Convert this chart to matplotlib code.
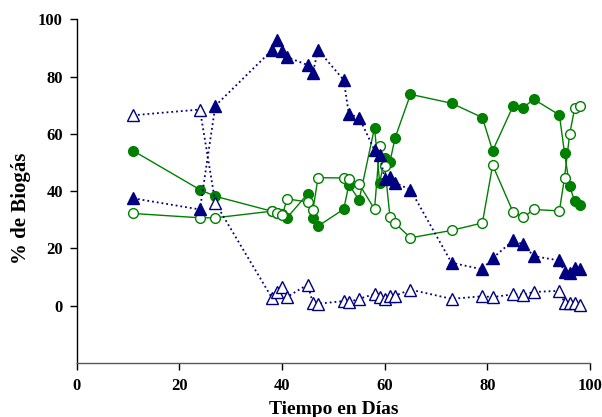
import matplotlib
matplotlib.use("Agg")
import matplotlib.pyplot as plt


# data collect
dias = [11, 24, 27, 38, 39, 40, 41, 45, 46, 47, 52, 53, 55, 58, 59,
        60, 61, 62, 65, 73, 79, 81, 85, 87, 89, 94, 95, 96, 97, 98]

tri_llenos = [37.5, 33.6, 69.8, 89.2, 92.8, 88.9, 86.8, 84.0, 81.4, 89.3,
              78.8, 66.9, 65.7, 54.3, 52.5, 44.3, 44.9, 42.9, 40.5, 15.0,
              12.7, 16.6, 22.8, 21.4, 17.3, 15.8, 11.7, 11.4, 13.2, 12.7]

tri_vacios = [66.5, 68.5, 35.9, 2.8, 4.8, 6.7, 3.1, 7.4, 0.9, 0.7,
              1.6, 1.3, 2.4, 4.1, 3.0, 2.4, 3.3, 3.5, 5.6, 2.4,
              3.3, 3.0, 4.0, 3.9, 4.8, 5.2, 1.0, 1.0, 1.0, 0.3]

circ_llenos = [54.1, 40.5, 38.2, 33.0, 32.5, 32.0, 30.8, 39.1, 30.5, 27.8,
               33.7, 42.3, 36.9, 62.2, 43.0, 51.5, 50.2, 58.6, 73.8, 70.7,
               65.7, 54.1, 69.8, 69.2, 72.1, 66.6, 53.3, 41.7, 36.4, 35.2]

circ_vacios = [32.2, 30.7, 30.7, 33.0, 32.3, 31.5, 37.3, 36.2, 33.4, 44.7,
               44.6, 44.3, 42.5, 33.7, 55.8, 48.7, 31.1, 28.8, 23.7, 26.3,
               28.9, 49.1, 32.6, 30.9, 33.6, 33.1, 44.7, 59.9, 69.2, 69.8]


# plot figure
navy = "#000080"
green = "#008000"
serif = "Liberation Serif"

fig = plt.figure(figsize=(6.02, 4.17), dpi=100)
ax = fig.add_axes([0.1274, 0.1295, 0.853, 0.8242])

ax.plot(dias, circ_llenos, "-o", color=green, lw=1, ms=7,
        mfc=green, mec=green)
ax.plot(dias, circ_vacios, "-o", color=green, lw=1, ms=7,
        mfc="white", mec=green, mew=1)
ax.plot(dias, tri_llenos, ":^", color=navy, lw=1.3, ms=8.5,
        mfc=navy, mec=navy)
ax.plot(dias, tri_vacios, ":^", color=navy, lw=1.3, ms=8.5,
        mfc="white", mec=navy, mew=1)

ax.set_xlim(0, 100)
ax.set_ylim(-20, 100)
ax.set_xticks(range(0, 101, 20))
ax.set_yticks(range(0, 101, 20))

ax.spines["top"].set_visible(False)
ax.spines["right"].set_visible(False)
ax.spines["left"].set_linewidth(1)
ax.spines["bottom"].set_linewidth(1)
ax.spines["bottom"].set_color("0.35")
ax.tick_params(direction="out", length=5, width=1)
ax.tick_params(axis="x", pad=6)
ax.tick_params(axis="y", pad=5)

for lbl in ax.get_xticklabels() + ax.get_yticklabels():
    lbl.set_fontfamily(serif)
    lbl.set_fontweight("bold")
    lbl.set_fontsize(12)

ax.set_xlabel("Tiempo en Días", fontfamily=serif,
              fontweight="bold", fontsize=14, labelpad=5)
ax.set_ylabel("% de Biogás", fontfamily=serif,
              fontweight="bold", fontsize=15, va="center")
# label sits a bit below the axes middle in the original
ax.yaxis.set_label_coords(-0.108, 0.45)

fig.savefig("out.png", dpi=100)
